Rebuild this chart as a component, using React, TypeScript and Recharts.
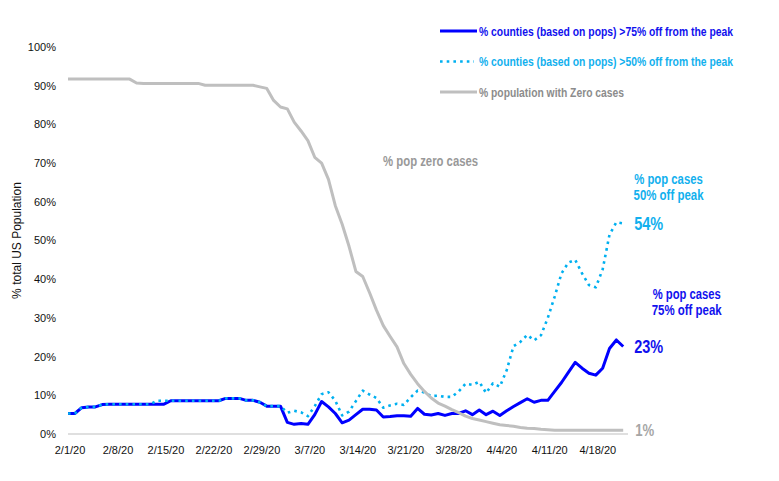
import React from 'react';
import { LineChart, Line, XAxis, YAxis, Legend, LabelList, ReferenceDot } from 'recharts';

// ---- categories ----
const dates = [
  '2/1/20','2/2/20','2/3/20','2/4/20','2/5/20','2/6/20','2/7/20','2/8/20','2/9/20','2/10/20',
  '2/11/20','2/12/20','2/13/20','2/14/20','2/15/20','2/16/20','2/17/20','2/18/20','2/19/20','2/20/20',
  '2/21/20','2/22/20','2/23/20','2/24/20','2/25/20','2/26/20','2/27/20','2/28/20','2/29/20',
  '3/1/20','3/2/20','3/3/20','3/4/20','3/5/20','3/6/20','3/7/20','3/8/20','3/9/20','3/10/20',
  '3/11/20','3/12/20','3/13/20','3/14/20','3/15/20','3/16/20','3/17/20','3/18/20','3/19/20','3/20/20',
  '3/21/20','3/22/20','3/23/20','3/24/20','3/25/20','3/26/20','3/27/20','3/28/20','3/29/20','3/30/20','3/31/20',
  '4/1/20','4/2/20','4/3/20','4/4/20','4/5/20','4/6/20','4/7/20','4/8/20','4/9/20','4/10/20',
  '4/11/20','4/12/20','4/13/20','4/14/20','4/15/20','4/16/20','4/17/20','4/18/20','4/19/20','4/20/20',
  '4/21/20','4/22/20',
];

// ---- series values (% of US population) ----
const pct75 = [
  5.3, 5.3, 6.8, 7.0, 7.0, 7.6, 7.7, 7.7, 7.7, 7.7,
  7.7, 7.7, 7.7, 7.7, 7.7, 8.6, 8.6, 8.6, 8.6, 8.6,
  8.6, 8.6, 8.6, 9.2, 9.2, 9.2, 8.7, 8.7, 8.2, 7.2,
  7.2, 7.2, 3.0, 2.5, 2.7, 2.5, 5.0, 8.4, 7.0, 5.3,
  2.9, 3.6, 5.0, 6.4, 6.4, 6.2, 4.4, 4.5, 4.7, 4.7,
  4.6, 6.6, 5.1, 4.9, 5.3, 4.8, 5.3, 5.3, 6.0, 5.0,
  6.2, 5.0, 5.9, 4.8, 6.0, 7.1, 8.1, 9.1, 8.2, 8.7,
  8.7, 11.0, 13.3, 15.9, 18.5, 17.0, 15.7, 15.2, 17.0, 22.1,
  24.3, 22.6,
];

const pct50 = [
  5.3, 5.3, 6.8, 7.0, 7.0, 7.6, 7.7, 7.7, 7.7, 7.7,
  7.7, 7.7, 7.7, 8.6, 8.6, 8.6, 8.6, 8.6, 8.6, 8.6,
  8.6, 8.6, 8.6, 9.2, 9.2, 9.2, 8.7, 8.7, 8.2, 7.2,
  7.2, 7.2, 5.5, 6.0, 5.6, 4.6, 7.2, 10.3, 10.8, 8.6,
  4.8, 5.8, 8.5, 11.2, 10.2, 9.3, 6.8, 7.4, 7.8, 7.5,
  9.5, 11.2, 10.7, 9.8, 9.9, 9.6, 9.6, 11.0, 13.0, 12.7,
  13.5, 10.6, 13.1, 12.2, 16.5, 22.7, 23.8, 25.6, 24.2, 25.5,
  30.0, 35.5, 41.5, 44.3, 45.0, 41.5, 38.5, 37.9, 42.5, 51.5,
  54.7, 54.4,
];

const zeroCases = [
  91.7, 91.7, 91.7, 91.7, 91.7, 91.7, 91.7, 91.7, 91.7, 91.7,
  90.7, 90.6, 90.6, 90.6, 90.6, 90.6, 90.6, 90.6, 90.6, 90.6,
  90.1, 90.1, 90.1, 90.1, 90.1, 90.1, 90.1, 90.1, 89.7, 89.3,
  86.2, 84.5, 84.0, 80.6, 78.3, 75.8, 71.5, 70.0, 65.8, 59.0,
  54.2, 48.5, 42.0, 40.7, 36.5, 32.0, 28.0, 25.2, 22.5, 18.2,
  15.4, 13.0, 11.0, 9.3, 8.0, 7.2, 6.3, 5.5, 4.6, 4.0,
  3.6, 3.2, 2.8, 2.4, 2.2, 2.0, 1.7, 1.5, 1.4, 1.2,
  1.1, 1.0, 1.0, 1.0, 1.0, 1.0, 1.0, 1.0, 1.0, 1.0,
  1.0, 1.0,
];

// ---- tick labels ----
const xTickDays = [0, 7, 14, 21, 28, 35, 42, 49, 56, 63, 70, 77];
const yTicks = [0, 10, 20, 30, 40, 50, 60, 70, 80, 90, 100];

const rows = dates.map((date, i) => ({
  day: i,
  date,
  p75: pct75[i],
  p50: pct50[i],
  zero: zeroCases[i],
}));

const LAST = dates.length - 1;
const SANS = "'Liberation Sans', Arial, Helvetica, sans-serif";
const NARROW_FONT = "'Liberation Sans', Arial, Helvetica, sans-serif";
const SQUEEZE = 0.82;

type Series = {
  key: string;
  name: string;
  color: string;
  textColor: string;
  endColor: string;
  width: number;
  dash?: string;
  legendLen: number;
  sampleLen: number;
  endSize: number;
  endLen: number;
  endDx: number;
  note?: string[];
  noteLens?: number[];
  noteDx?: number;
  noteDy?: number;
};

const SERIES: Series[] = [
  {
    key: 'p75',
    name: '% counties (based on pops) >75% off from the peak',
    color: '#0000FF',
    textColor: '#1111EE',
    endColor: '#1111EE',
    width: 3,
    legendLen: 254,
    sampleLen: 37,
    endSize: 17.5,
    endLen: 29,
    endDx: 11,
    note: ['% pop cases', '75% off peak'],
    noteLens: [68, 70],
    noteDx: 63.5,
    noteDy: -52.5,
  },
  {
    key: 'p50',
    name: '% counties (based on pops) >50% off from the peak',
    color: '#00B0F0',
    textColor: '#12B0EE',
    endColor: '#12B0EE',
    width: 2.6,
    dash: '2.6 4.1',
    legendLen: 254,
    sampleLen: 34,
    endSize: 17.5,
    endLen: 29,
    endDx: 11,
    note: ['% pop cases', '50% off peak'],
    noteLens: [68.5, 70],
    noteDx: 45.3,
    noteDy: -44.5,
  },
  {
    key: 'zero',
    name: '% population with Zero cases',
    color: '#BFBFBF',
    textColor: '#8C8C8C',
    endColor: '#A6A6A6',
    width: 3,
    legendLen: 145,
    sampleLen: 37,
    endSize: 16,
    endLen: 19,
    endDx: 12,
  },
];

// Bold condensed text: horizontally squeezed so its box matches the target width.
const NarrowText = (props: {
  x: number;
  y: number;
  len: number;
  size: number;
  fill: string;
  anchor?: 'start' | 'middle' | 'end';
  children: React.ReactNode;
}) => {
  const { x, y, len, size, fill, anchor = 'start', children } = props;
  return (
    <text
      transform={`translate(${x} ${y}) scale(${SQUEEZE} 1)`}
      x={0}
      y={0}
      dy="0.36em"
      textAnchor={anchor}
      fontFamily={NARROW_FONT}
      fontWeight="bold"
      fontSize={size}
      fill={fill}
      textLength={len / SQUEEZE}
      lengthAdjust="spacingAndGlyphs"
    >
      {children}
    </text>
  );
};

const XTick = (props: any) => {
  const { x, y, payload } = props;
  return (
    <text x={x + 2} y={y} dy="0.71em" textAnchor="middle" fontFamily={SANS} fontSize={11} fill="#111">
      {dates[payload.value]}
    </text>
  );
};

const YTick = (props: any) => {
  const { x, y, payload } = props;
  return (
    <text x={x} y={y} dy="0.355em" textAnchor="end" fontFamily={SANS} fontSize={11} fill="#111">
      {`${payload.value}%`}
    </text>
  );
};

const LegendBox = () => (
  <svg width={345} height={100} style={{ display: 'block' }}>
    {SERIES.map((s, i) => {
      const y = 21 + i * 30.5;
      return (
        <g key={s.key}>
          <line
            x1={10}
            x2={10 + s.sampleLen}
            y1={y}
            y2={y}
            stroke={s.color}
            strokeWidth={s.width}
            strokeDasharray={s.dash}
          />
          <NarrowText x={49} y={y} len={s.legendLen} size={12.5} fill={s.textColor}>
            {s.name}
          </NarrowText>
        </g>
      );
    })}
  </svg>
);

const makeEndLabel = (s: Series) => (props: any) => {
  const { x, y, index, value } = props;
  if (index !== LAST) return null;
  return (
    <g>
      <NarrowText x={x + s.endDx} y={y} len={s.endLen} size={s.endSize} fill={s.endColor}>
        {`${Math.round(Number(value))}%`}
      </NarrowText>
      {s.note
        ? s.note.map((line, k) => (
            <NarrowText
              key={k}
              x={x + (s.noteDx || 0)}
              y={y + (s.noteDy || 0) + k * 15.5}
              len={s.noteLens ? s.noteLens[k] : 70}
              size={14}
              fill={s.textColor}
              anchor="middle"
            >
              {line}
            </NarrowText>
          ))
        : null}
    </g>
  );
};

const ZeroNote = (props: any) => {
  const vb = props.viewBox || {};
  return (
    <NarrowText x={vb.x} y={vb.y} len={95} size={14} fill="#999999" anchor="middle">
      % pop zero cases
    </NarrowText>
  );
};

export default function App() {
  return (
    <div style={{ position: 'absolute', left: 0, top: 0, width: 779, height: 481, background: '#fff' }}>
      <LineChart width={779} height={481} data={rows} margin={{ top: 47, right: 151, left: 0, bottom: 17 }}>
        <XAxis
          type="number"
          dataKey="day"
          domain={[0, 81.7]}
          ticks={xTickDays}
          interval={0}
          height={30}
          tickSize={0}
          tickMargin={12}
          tickLine={false}
          axisLine={{ stroke: '#BFBFBF', strokeWidth: 1 }}
          tick={<XTick />}
        />
        <YAxis
          type="number"
          domain={[0, 100]}
          ticks={yTicks}
          interval={0}
          width={68}
          tickSize={0}
          tickMargin={12}
          tickLine={false}
          axisLine={false}
          tick={<YTick />}
          label={{
            value: '% total US Population',
            angle: -90,
            position: 'insideLeft',
            offset: 16.5,
            style: { textAnchor: 'middle', fontFamily: SANS, fontSize: 12, fill: '#111' },
          }}
        />
        <Legend
          layout="vertical"
          align="center"
          verticalAlign="middle"
          wrapperStyle={{ left: 430, top: 10, width: 345, height: 100 }}
          content={() => <LegendBox />}
        />
        {SERIES.map((s) => (
          <Line
            key={s.key}
            type="linear"
            dataKey={s.key}
            name={s.name}
            stroke={s.color}
            strokeWidth={s.width}
            strokeDasharray={s.dash}
            strokeLinejoin="round"
            dot={false}
            activeDot={false}
            isAnimationActive={false}
          >
            <LabelList dataKey={s.key} content={makeEndLabel(s)} />
          </Line>
        ))}
        <ReferenceDot
          x={52.9}
          y={70.6}
          r={0}
          fill="none"
          stroke="none"
          label={(p: any) => <ZeroNote {...p} />}
        />
      </LineChart>
    </div>
  );
}
